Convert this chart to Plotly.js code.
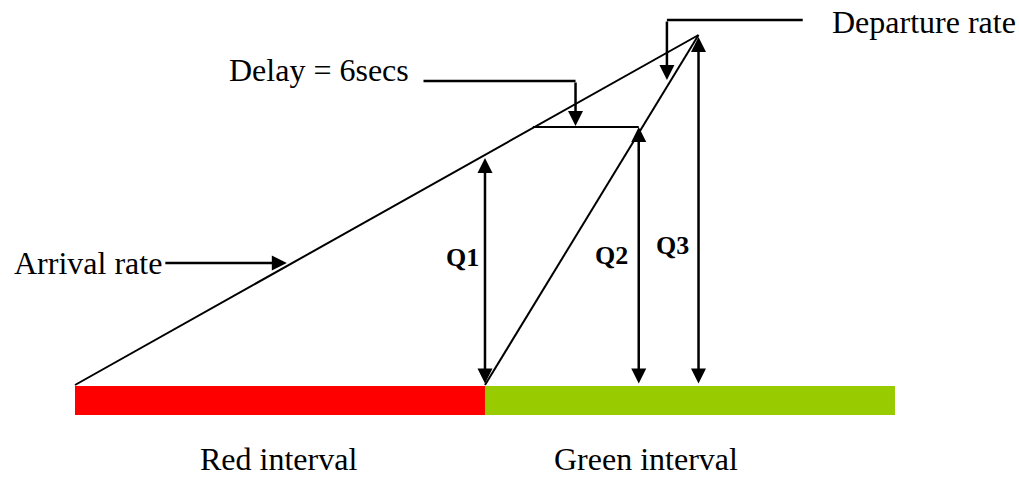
<!DOCTYPE html>
<html>
<head>
<meta charset="utf-8">
<script src="https://cdn.plot.ly/plotly-3.0.1.min.js"></script>
<style>html,body{margin:0;padding:0;background:#fff;}#chart{width:1019px;height:478px;}</style>
</head>
<body>
<div id="chart"></div>
<script>
// Time (s) and queue (veh) values of the signal queueing diagram
const intervalNames = ['Red interval', 'Green interval'];
const intervalStart = [0, 24];
const intervalLength = [24, 24];
const intervalColors = ['#ff0000', '#99cc00'];

const arrivalT = [0, 36.5];
const arrivalQ = [0, 35];
const departureT = [24, 36.5];
const departureQ = [0, 35];

const queueNames = ['Q1', 'Q2', 'Q3'];
const queueT = [24, 33, 36.5];
const queueQ = [22.7, 25.8, 34.8];

const delayT = [26.8, 33];
const delayQ = [25.8, 25.8];

// callout leaders
const delayLeaderT = [20.4, 29.3, 29.3];
const delayLeaderQ = [30.4, 30.4, 25.9];
const departLeaderT = [42.6, 34.65, 34.65];
const departLeaderQ = [36.5, 36.5, 30.5];
const arrivalLeaderT = [5.2, 12.4];
const arrivalLeaderQ = [12.2, 12.2];

const lineStyle = {color: 'black', width: 2};
const leaderStyle = {color: 'black', width: 2.5};

const traces = [
  {type: 'bar', orientation: 'h', y: [-1.55, -1.55], x: intervalLength, base: intervalStart,
   width: 2.9, marker: {color: intervalColors, line: {width: 0}}, hoverinfo: 'skip'},
  {type: 'scatter', mode: 'lines', x: arrivalT, y: arrivalQ, line: lineStyle},
  {type: 'scatter', mode: 'lines', x: departureT, y: departureQ, line: lineStyle},
  {type: 'scatter', mode: 'lines', x: delayT, y: delayQ, line: lineStyle},
  {type: 'scatter', mode: 'lines', x: delayLeaderT.slice(0, 2), y: delayLeaderQ.slice(0, 2), line: leaderStyle},
  {type: 'scatter', mode: 'lines', x: departLeaderT.slice(0, 2), y: departLeaderQ.slice(0, 2), line: leaderStyle}
];

const textFont = {family: '"Liberation Serif", "Times New Roman", serif', size: 32, color: 'black'};
const qFont = {family: '"Liberation Serif", "Times New Roman", serif', size: 26, color: 'black', weight: 'bold'};

function arrow(x, y, ax, ay, both) {
  const a = {x: x, y: y, ax: ax, ay: ay, xref: 'x', yref: 'y', axref: 'x', ayref: 'y',
    text: '', showarrow: true, arrowhead: 2, arrowsize: 1.2, arrowwidth: 2.5,
    arrowcolor: 'black', standoff: 0, startstandoff: 0};
  if (both) { a.arrowside = 'end+start'; a.startarrowhead = 2; a.startarrowsize = 1.2; }
  return a;
}

const annotations = [];
// queue double arrows
for (let i = 0; i < queueT.length; i++) {
  annotations.push(arrow(queueT[i], queueQ[i], queueT[i], 0, true));
}
// leader arrows
annotations.push(arrow(delayLeaderT[2], delayLeaderQ[2], delayLeaderT[1], delayLeaderQ[1], false));
annotations.push(arrow(departLeaderT[2], departLeaderQ[2], departLeaderT[1], departLeaderQ[1], false));
annotations.push(arrow(arrivalLeaderT[1], arrivalLeaderQ[1], arrivalLeaderT[0], arrivalLeaderQ[0], false));

// labels
const qLabelT = [22.7, 31.43, 35.0];
const qLabelQ = [12.8, 13.0, 14.0];
for (let i = 0; i < queueNames.length; i++) {
  annotations.push({x: qLabelT[i], y: qLabelQ[i], xref: 'x', yref: 'y', text: '<b>' + queueNames[i] + '</b>',
    showarrow: false, font: qFont, xanchor: 'center', yanchor: 'middle'});
}
annotations.push({x: arrivalLeaderT[0], y: 12.2, xref: 'x', yref: 'y', text: 'Arrival rate',
  showarrow: false, font: textFont, xanchor: 'right', yanchor: 'middle'});
annotations.push({x: 44.2, y: 36.3, xref: 'x', yref: 'y', text: 'Departure rate',
  showarrow: false, font: textFont, xanchor: 'left', yanchor: 'middle'});
annotations.push({x: 8.9, y: 31.5, xref: 'x', yref: 'y', text: 'Delay = 6secs',
  showarrow: false, font: textFont, xanchor: 'left', yanchor: 'middle'});
const intervalLabelT = [11.9, 33.4];
for (let i = 0; i < intervalNames.length; i++) {
  annotations.push({x: intervalLabelT[i], y: 0, xref: 'x', yref: 'paper', text: intervalNames[i],
    showarrow: false, font: textFont, xanchor: 'center', yanchor: 'bottom', borderpad: 0});
}

const layout = {
  width: 1019, height: 478,
  margin: {l: 0, r: 0, t: 0, b: 0, pad: 0},
  paper_bgcolor: 'white', plot_bgcolor: 'white',
  showlegend: false, barmode: 'overlay',
  xaxis: {range: [-4.39, 55.26], visible: false, fixedrange: true},
  yaxis: {range: [-9.3, 38.5], visible: false, fixedrange: true},
  annotations: annotations
};

Plotly.newPlot('chart', traces, layout, {staticPlot: true, displayModeBar: false});
</script>
</body>
</html>
